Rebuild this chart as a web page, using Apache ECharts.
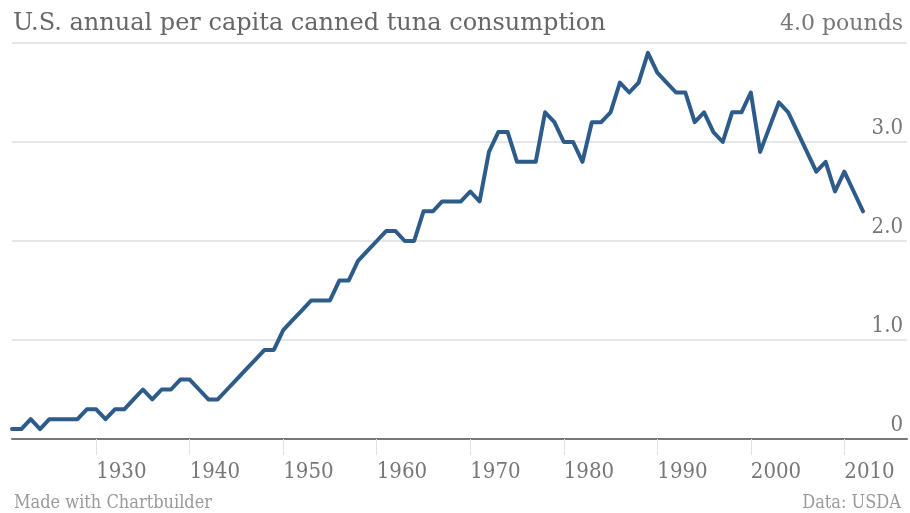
<!DOCTYPE html>
<html>
<head>
<meta charset="utf-8">
<script src="https://cdn.jsdelivr.net/npm/echarts@6/dist/echarts.min.js"></script>
<style>
body { margin: 0; background: #fff; }
#myChart { width: 910px; height: 513px; }
</style>
</head>
<body>
<div id="myChart"></div>
<script>
// years 1921 - 2012
var years = [];
for (var y = 1921; y <= 2012; y++) years.push(y);
// pounds per person
var pounds = [
  0.1, 0.1, 0.2, 0.1, 0.2, 0.2, 0.2, 0.2, 0.3, 0.3,   // 1921-1930
  0.2, 0.3, 0.3, 0.4, 0.5, 0.4, 0.5, 0.5, 0.6, 0.6,   // 1931-1940
  0.5, 0.4, 0.4, 0.5, 0.6, 0.7, 0.8, 0.9, 0.9, 1.1,   // 1941-1950
  1.2, 1.3, 1.4, 1.4, 1.4, 1.6, 1.6, 1.8, 1.9, 2.0,   // 1951-1960
  2.1, 2.1, 2.0, 2.0, 2.3, 2.3, 2.4, 2.4, 2.4, 2.5,   // 1961-1970
  2.4, 2.9, 3.1, 3.1, 2.8, 2.8, 2.8, 3.3, 3.2, 3.0,   // 1971-1980
  3.0, 2.8, 3.2, 3.2, 3.3, 3.6, 3.5, 3.6, 3.9, 3.7,   // 1981-1990
  3.6, 3.5, 3.5, 3.2, 3.3, 3.1, 3.0, 3.3, 3.3, 3.5,   // 1991-2000
  2.9, 3.15, 3.4, 3.3, 3.1, 2.9, 2.7, 2.8, 2.5, 2.7,  // 2001-2010
  2.5, 2.3                                            // 2011-2012
];
var yearTicks = [1930, 1940, 1950, 1960, 1970, 1980, 1990, 2000, 2010];

var font = '"DejaVu Serif Condensed", "DejaVu Serif", serif';
var wideFont = '"DejaVu Serif", serif';
var seriesData = years.map(function (yr, i) { return [yr, pounds[i]]; });

var myChart = echarts.init(document.getElementById('myChart'));
myChart.setOption({
  animation: false,
  grid: { left: 12, right: 3, top: 43, bottom: 74 },
  title: [
    {
      text: 'U.S. annual per capita canned tuna consumption',
      left: 8, top: 7,
      textStyle: { fontFamily: wideFont, fontSize: 24, fontWeight: 'normal', color: '#666' }
    },
    {
      text: 'Made with Chartbuilder',
      left: 9, top: 489,
      textStyle: { fontFamily: font, fontSize: 18, fontWeight: 'normal', color: '#9a9a9a' }
    },
    {
      text: 'Data: USDA',
      right: 4, top: 489,
      textStyle: { fontFamily: font, fontSize: 18, fontWeight: 'normal', color: '#9a9a9a' }
    }
  ],
  xAxis: {
    type: 'value',
    min: 1921,
    max: 2016.7,
    splitLine: { show: false },
    axisLine: { show: true, lineStyle: { color: '#777', width: 2 } },
    axisTick: { show: true, customValues: yearTicks, length: 16, lineStyle: { color: '#e2e2e2' } },
    axisLabel: {
      customValues: yearTicks,
      align: 'left',
      margin: 22,
      fontFamily: font, fontSize: 22, color: '#777',
      formatter: function (v) { return String(v); }
    }
  },
  yAxis: {
    type: 'value',
    position: 'right',
    min: 0, max: 4, interval: 1,
    axisLine: { show: false },
    axisTick: { show: false },
    splitLine: { lineStyle: { color: '#e6e6e6', width: 2 } },
    axisLabel: {
      inside: true,
      margin: 4,
      verticalAlign: 'bottom',
      padding: [0, 0, 3, 0],
      fontFamily: font, fontSize: 22, color: '#777',
      rich: { w: { fontFamily: wideFont, fontSize: 22, color: '#777', padding: [0, 0, 5, 0] } },
      formatter: function (v) {
        if (v === 0) return '0';
        if (v === 4) return '{w|4.0 pounds}';
        return v.toFixed(1);
      }
    }
  },
  series: [{
    type: 'line',
    data: seriesData,
    showSymbol: false,
    lineStyle: { color: '#2d5c8b', width: 4, cap: 'round', join: 'round' }
  }]
});
</script>
</body>
</html>
